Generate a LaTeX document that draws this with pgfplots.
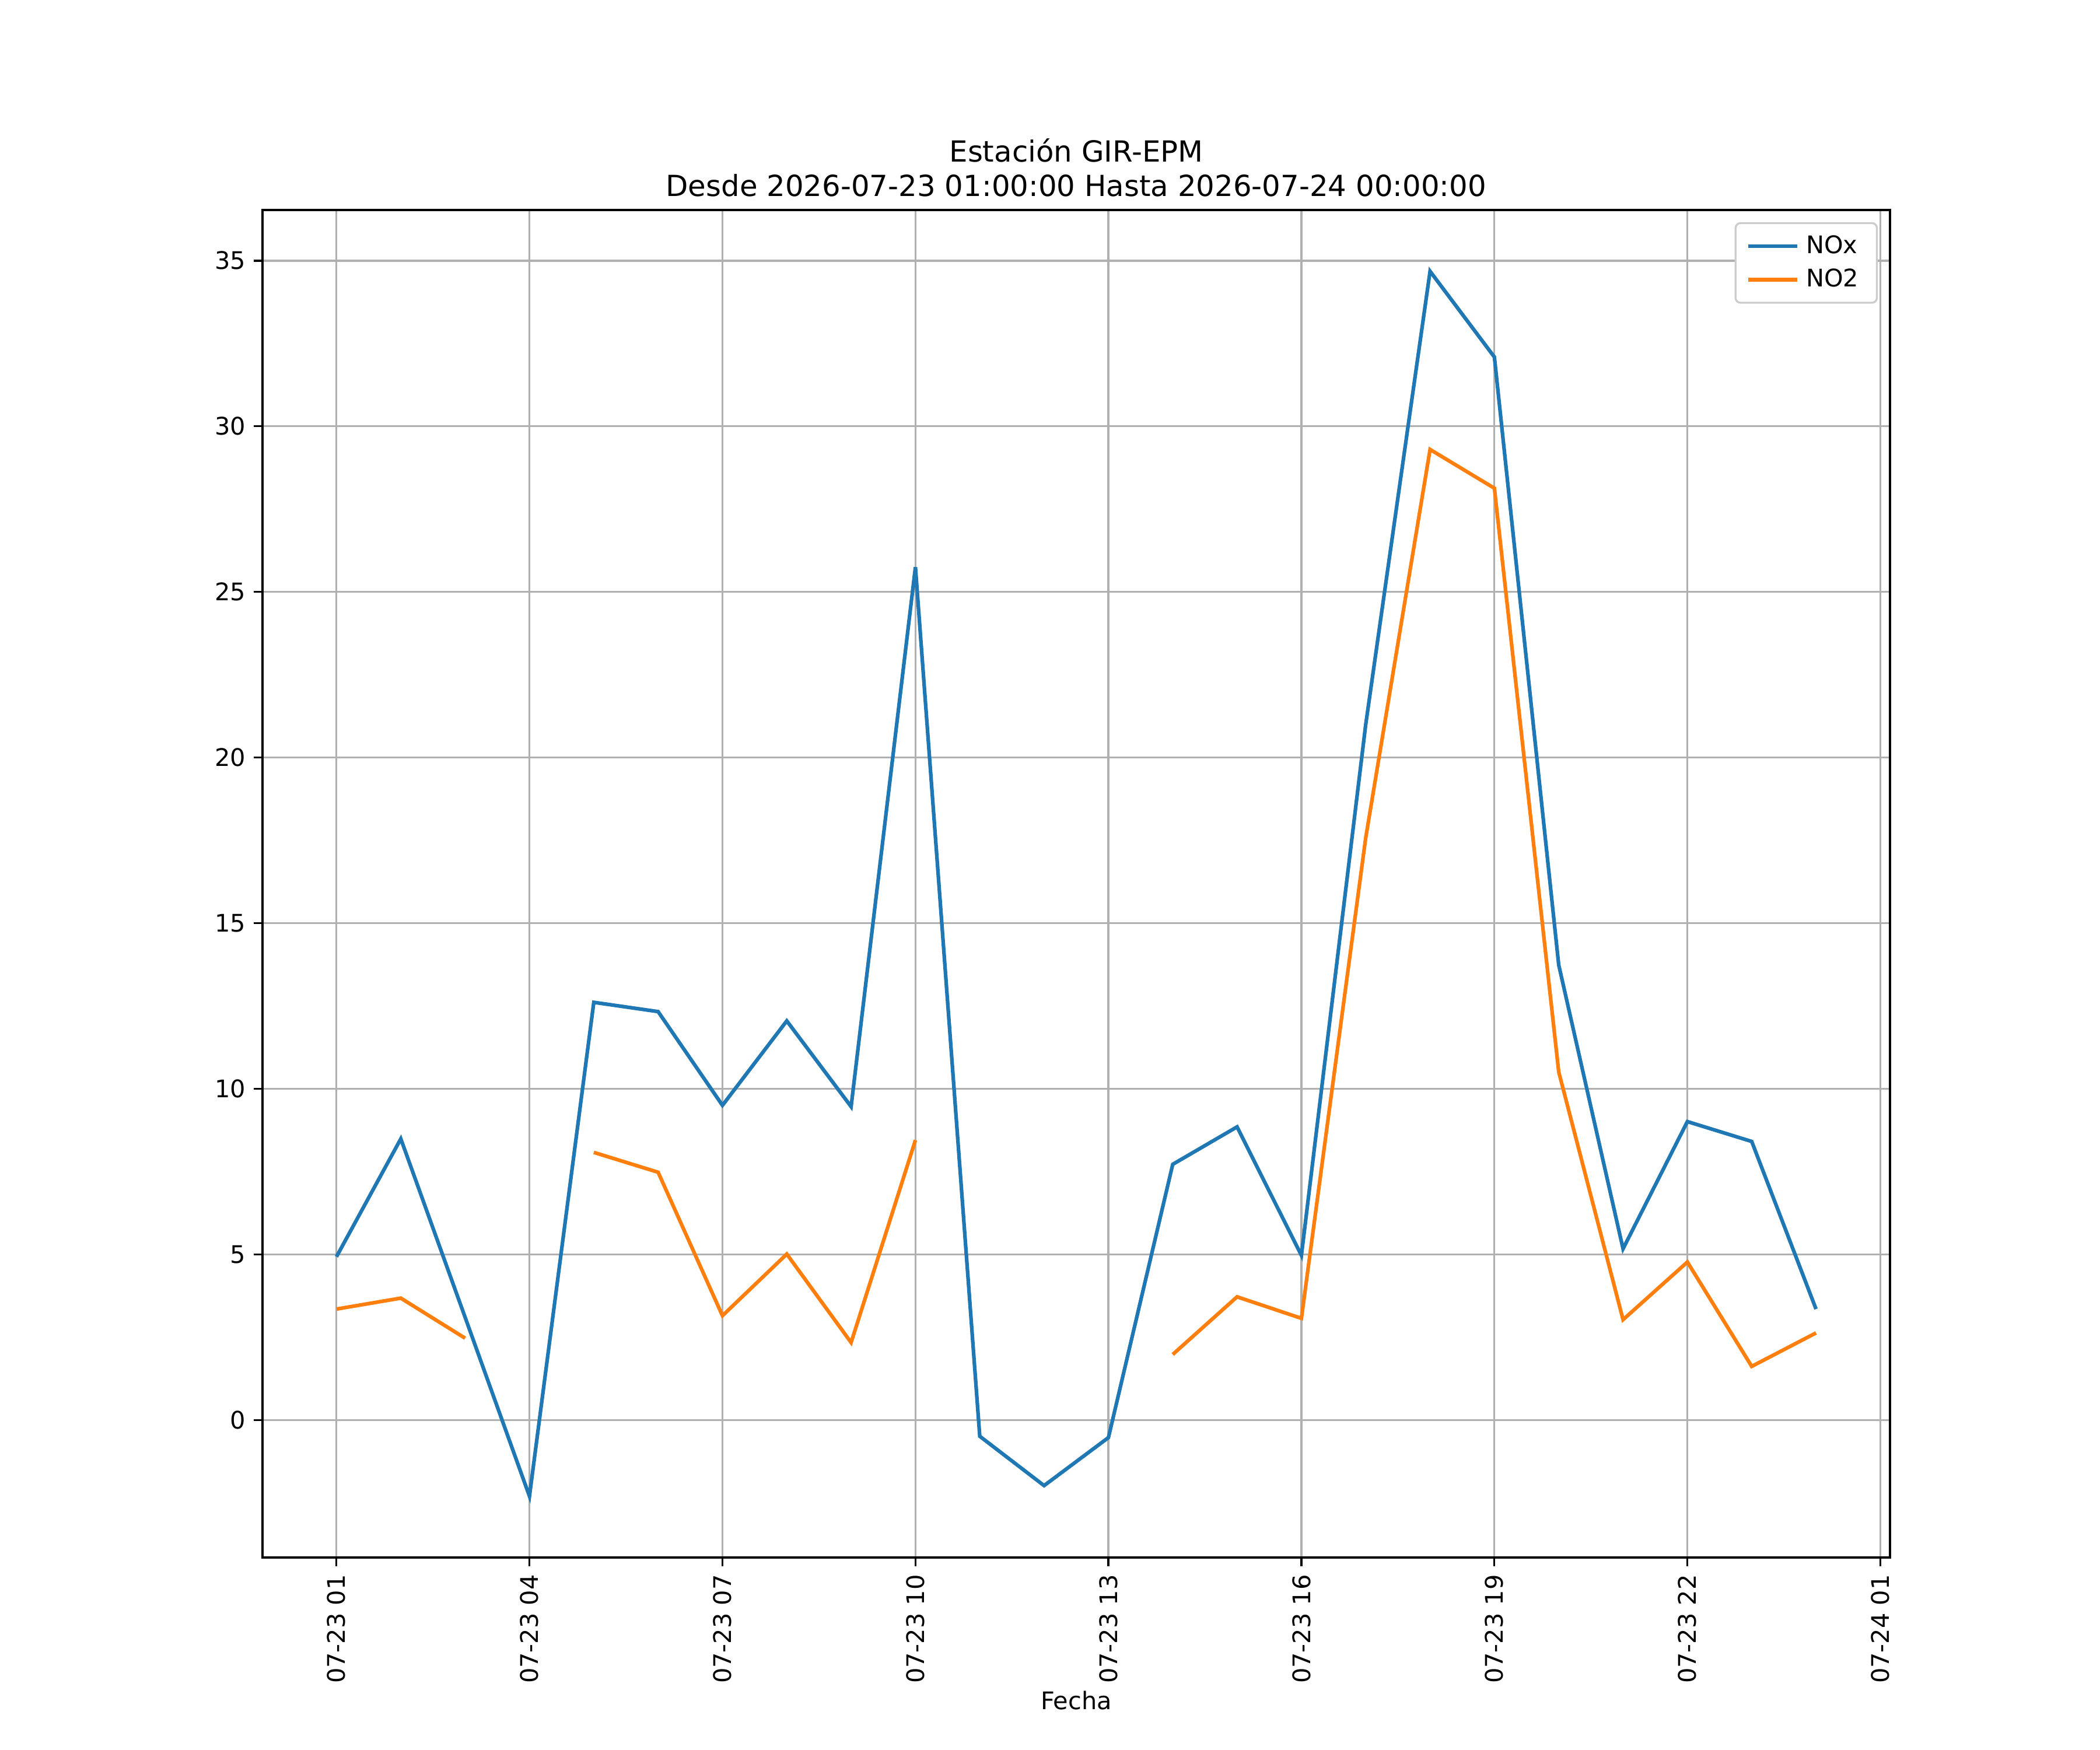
\documentclass[border=0pt]{standalone}
\usepackage{pgfplots}
\pgfplotsset{compat=1.18}
\usepackage{fontspec}
\setmainfont{DejaVu Sans}
\definecolor{tabblue}{HTML}{1F77B4}
\definecolor{taborange}{HTML}{FF7F0E}
\begin{document}
\begin{tikzpicture}
\begin{axis}[
  scale only axis,
  width=669.6bp, height=554.4bp,
  xmin=-0.15, xmax=25.15, ymin=-4.15, ymax=36.53,
  xtick={1,4,7,10,13,16,19,22,25},
  xticklabels={07-23 01,07-23 04,07-23 07,07-23 10,07-23 13,07-23 16,07-23 19,07-23 22,07-24 01},
  x tick label style={rotate=90, anchor=east, font=\fontsize{10}{12}\selectfont, inner sep=0pt, outer sep=3.5bp},
  ytick={0,5,10,15,20,25,30,35},
  y tick label style={font=\fontsize{10}{12}\selectfont, inner sep=0pt, outer sep=3.5bp},
  /pgf/number format/assume math mode=true,
  tick align=outside,
  major tick length=3.5bp,
  tick style={black, line width=0.8bp},
  xtick pos=bottom, ytick pos=left,
  axis line style={line width=0.8bp},
  grid=major,
  major grid style={color=black!31, line width=0.8bp},
  xlabel={Fecha},
  xlabel style={font=\fontsize{10}{12}\selectfont, inner sep=0pt, yshift=-3bp},
  title={Estación GIR-EPM\\Desde 2026-07-23 01:00:00 Hasta 2026-07-24 00:00:00},
  title style={font=\fontsize{12}{14}\selectfont, align=center, inner sep=0pt, yshift=-0.6bp},
  unbounded coords=jump,
  legend style={font=\fontsize{10}{12}\selectfont, draw=black!20, rounded corners=2bp, line width=0.8bp, at={(1,1)}, anchor=north east, xshift=-5bp, yshift=-5bp, inner xsep=4.5bp, inner ysep=3bp, row sep=1bp},
  legend cell align=left,
  legend image code/.code={\draw[#1] (0bp,0bp) -- (20bp,0bp);},
  legend style={nodes={inner xsep=3bp}},
]
\addplot[tabblue, line width=1.5bp] coordinates {
(1,4.93) (2,8.49) (3,3.1) (4,-2.30) (5,12.61) (6,12.33) (7,9.50) (8,12.05) (9,9.46) (10,25.75)
(11,-0.49) (12,-1.98) (13,-0.53) (14,7.72) (15,8.85) (16,4.97) (17,21.0) (18,34.68) (19,32.09)
(20,13.74) (21,5.17) (22,9.01) (23,8.41) (24,3.35)};
\addlegendentry{NOx}
\addplot[taborange, line width=1.5bp] coordinates {
(1,3.35) (2,3.68) (3,2.47) (4,nan) (5,8.08) (6,7.48) (7,3.15) (8,5.01) (9,2.34) (10,8.45)
(11,nan) (12,nan) (13,nan) (14,1.98) (15,3.72) (16,3.07) (17,17.58) (18,29.30) (19,28.13)
(20,10.51) (21,3.03) (22,4.77) (23,1.62) (24,2.63)};
\addlegendentry{NO2}
\end{axis}
\path (current axis.south west) ++(-108bp,-79.2bp) coordinate (bl);
\path (current axis.north east) ++(86.4bp,86.4bp) coordinate (tr);
\useasboundingbox (bl) rectangle (tr);
\end{tikzpicture}
\end{document}
